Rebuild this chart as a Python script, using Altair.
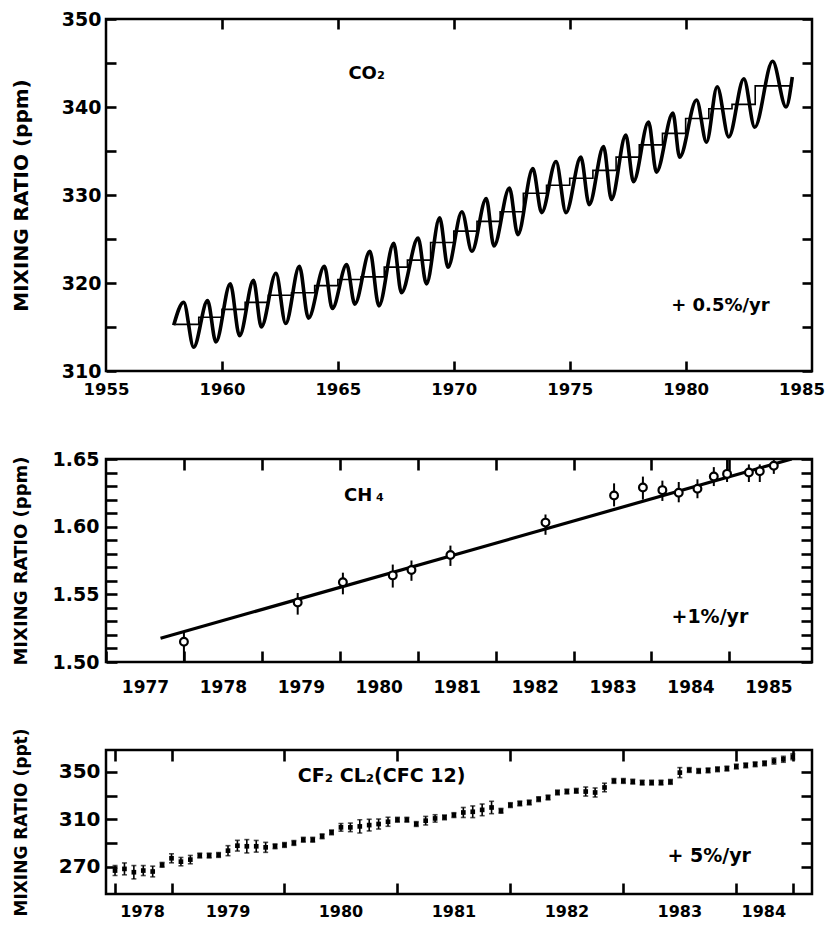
import altair as alt
import pandas as pd

FONT = "DejaVu Sans"

co2_start_year = 1957.92
co2_start_val = 315.2
co2_peak_year = [1958.35, 1959.38, 1960.36, 1961.36, 1962.33, 1963.34, 1964.42, 1965.38, 1966.38,
                 1967.41, 1968.46, 1969.39, 1970.35, 1971.40, 1972.40, 1973.41, 1974.41, 1975.48,
                 1976.46, 1977.42, 1978.40, 1979.45, 1980.47, 1981.36, 1982.51, 1983.75]
co2_peak_val = [317.8, 318.0, 319.9, 320.3, 321.1, 321.9, 321.9, 322.1, 323.6,
                324.5, 325.1, 327.4, 328.1, 329.6, 330.8, 333.0, 333.8, 334.3,
                335.5, 336.8, 338.3, 339.3, 340.8, 342.3, 343.2, 345.2]
co2_trough_year = [1958.78, 1959.74, 1960.76, 1961.70, 1962.75, 1963.73, 1964.76, 1965.73, 1966.77,
                   1967.74, 1968.82, 1969.75, 1970.78, 1971.73, 1972.76, 1973.79, 1974.84, 1975.84,
                   1976.80, 1977.75, 1978.74, 1979.74, 1980.90, 1981.86, 1982.98, 1984.33]
co2_trough_val = [312.7, 313.3, 314.0, 315.0, 315.4, 316.0, 317.1, 317.6, 317.4,
                  318.9, 319.9, 321.8, 323.6, 324.2, 325.5, 328.0, 328.0, 328.9,
                  329.5, 331.5, 332.6, 334.3, 336.0, 336.6, 337.7, 340.0]
co2_end_year = 1984.6
co2_end_val = 343.4

co2_mean_year = [1958, 1959, 1960, 1961, 1962, 1963, 1964, 1965, 1966, 1967, 1968, 1969, 1970,
                 1971, 1972, 1973, 1974, 1975, 1976, 1977, 1978, 1979, 1980, 1981, 1982, 1983, 1984]
co2_mean_val = [315.3, 316.1, 317.0, 317.8, 318.6, 318.9, 319.7, 320.4, 320.7, 321.8, 322.6, 324.6, 325.9,
                327.0, 328.1, 330.2, 331.1, 331.9, 332.8, 334.3, 335.7, 337.0, 338.7, 339.8, 340.3, 342.4, 342.4]

ch4_year = [1978.00, 1979.46, 1980.04, 1980.68, 1980.92, 1981.42, 1982.64, 1983.52, 1983.89,
            1984.14, 1984.35, 1984.59, 1984.80, 1984.97, 1985.25, 1985.39, 1985.57]
ch4_val = [1.515, 1.544, 1.559, 1.564, 1.568, 1.579, 1.603, 1.623, 1.629,
           1.627, 1.625, 1.628, 1.637, 1.639, 1.640, 1.641, 1.645]
ch4_lo = [1.500, 1.535, 1.550, 1.555, 1.560, 1.571, 1.594, 1.615, 1.620,
          1.619, 1.618, 1.621, 1.630, 1.633, 1.633, 1.633, 1.639]
ch4_hi = [1.522, 1.551, 1.566, 1.572, 1.575, 1.586, 1.609, 1.632, 1.637,
          1.634, 1.633, 1.635, 1.644, 1.650, 1.646, 1.646, 1.650]
ch4_fit_year = [1977.70, 1985.80]
ch4_fit_val = [1.5175, 1.6500]

cfc_first_year = 1978.5
cfc_val = [267.0, 268.4, 265.6, 267.0, 266.2, 271.8, 277.3, 274.5, 276.2, 279.6,
           279.6, 280.1, 283.7, 287.9, 287.4, 287.4, 286.5, 287.4, 288.5, 290.2,
           292.9, 292.9, 295.8, 299.1, 303.3, 303.3, 304.1, 305.2, 306.1, 308.0,
           309.7, 309.7, 306.1, 308.9, 310.8, 311.7, 313.6, 315.8, 316.4, 318.0,
           320.0, 317.2, 322.0, 323.4, 324.2, 327.0, 328.4, 332.6, 333.4, 334.0,
           333.4, 332.6, 336.8, 342.3, 342.3, 341.7, 340.9, 340.9, 340.9, 341.5,
           349.3, 351.5, 350.7, 351.2, 352.1, 352.7, 354.4, 355.4, 356.3, 357.1,
           359.0, 360.5, 362.7]
cfc_err = [4.2, 5.0, 5.6, 4.2, 4.5, 2.0, 3.8, 3.5, 3.5, 2.0,
           2.0, 2.0, 4.2, 4.5, 5.6, 4.9, 4.2, 2.0, 2.0, 2.0,
           2.0, 2.0, 2.0, 2.0, 3.2, 3.6, 5.6, 4.9, 4.2, 3.8,
           2.0, 2.0, 2.0, 3.6, 3.1, 2.0, 2.0, 4.2, 4.9, 4.9,
           5.2, 2.0, 2.0, 2.0, 2.0, 2.0, 2.0, 2.0, 2.0, 2.0,
           3.8, 3.8, 3.6, 2.0, 2.0, 2.0, 2.0, 2.0, 2.0, 2.0,
           4.2, 2.0, 2.0, 2.0, 2.0, 2.0, 2.0, 2.0, 2.0, 2.0,
           2.5, 2.5, 2.5]

co2_df = pd.DataFrame({
    "year": [co2_start_year] + [v for p in zip(co2_peak_year, co2_trough_year) for v in p] + [co2_end_year],
    "ppm": [co2_start_val] + [v for p in zip(co2_peak_val, co2_trough_val) for v in p] + [co2_end_val],
})
mean_df = pd.DataFrame({"year": co2_mean_year + [co2_end_year],
                        "ppm": co2_mean_val + [co2_mean_val[-1]]})
ch4_df = pd.DataFrame({"year": ch4_year, "ppm": ch4_val, "lo": ch4_lo, "hi": ch4_hi})
fit_df = pd.DataFrame({"year": ch4_fit_year, "ppm": ch4_fit_val})
cfc_df = pd.DataFrame({"year": [cfc_first_year + i / 12 for i in range(len(cfc_val))], "ppt": cfc_val})
cfc_df["lo"] = cfc_df["ppt"] - pd.Series(cfc_err)
cfc_df["hi"] = cfc_df["ppt"] + pd.Series(cfc_err)
caps_df = pd.concat([cfc_df[["year", "lo"]].rename(columns={"lo": "v"}),
                     cfc_df[["year", "hi"]].rename(columns={"hi": "v"})])

W = 706


def frame_axis(orient, values, tick, **kw):
    base = dict(orient=orient, values=values, tickSize=tick, offset=-tick, domain=False, grid=False,
                ticks=True, tickColor="black", tickWidth=2.6, labelOverlap=False, labelFlush=False,
                labelFont=FONT, labelFontWeight="bold", labelColor="black", title=None,
                minExtent=0, maxExtent=300)
    if "labels" not in kw:
        kw["labels"] = False
    base.update(kw)
    return alt.Axis(**base)


def note(text, x, y, xs, ys, size):
    return alt.Chart(pd.DataFrame({"t": [text]})).mark_text(
        font=FONT, fontWeight="bold", fontSize=size, color="black", align="center", baseline="middle"
    ).encode(x=alt.X(datum=x, scale=xs, axis=None), y=alt.Y(datum=y, scale=ys, axis=None), text="t:N")


def ytitle_axis(values, tick, title, tsize, **kw):
    return frame_axis("left", values, tick, labels=True, title=title, titleFont=FONT, titleFontWeight="bold",
                      titleFontSize=tsize, titleColor="black", titleAngle=270, titleBaseline="middle",
                      titleX=-85 - tick, **kw)


T1 = 10
xs1 = alt.Scale(domain=[1955, 1985.45], nice=False, zero=False)
ys1 = alt.Scale(domain=[310, 350], nice=False, zero=False)
co2_yvals = [310, 315, 320, 325, 330, 335, 340, 345, 350]

seasonal = alt.Chart(co2_df).mark_line(color="black", strokeWidth=3.6, interpolate="monotone", clip=True).encode(
    x=alt.X("year:Q", scale=xs1, axis=frame_axis(
        "bottom", [1955, 1960, 1965, 1970, 1975, 1980, 1985], T1, labels=True, labelFontSize=16.5, labelPadding=10,
        labelExpr="format(datum.value, 'd')",
        tickOpacity={"condition": {"test": "datum.value == 1955 || datum.value == 1985", "value": 0}, "value": 1})),
    y=alt.Y("ppm:Q", scale=ys1, axis=ytitle_axis(
        co2_yvals, T1, "MIXING RATIO (ppm)", 20, labelFontSize=19, labelPadding=5,
        labelExpr="datum.value % 10 == 0 ? format(datum.value, 'd') : ''")),
)
mean_line = alt.Chart(mean_df).mark_line(color="black", strokeWidth=1.6, interpolate="step-after").encode(
    x=alt.X("year:Q", scale=xs1, axis=frame_axis("top", [1960, 1965, 1970, 1975, 1980], T1)),
    y=alt.Y("ppm:Q", scale=ys1, axis=frame_axis("right", co2_yvals, T1)),
)
p1 = alt.layer(
    seasonal, mean_line,
    note("CO₂", 1966.24, 343.8, xs1, ys1, 18),
    note("+ 0.5%/yr", 1981.5, 317.4, xs1, ys1, 18),
).resolve_axis(x="independent", y="independent").properties(width=W, height=352)

T2 = 11
xs2 = alt.Scale(domain=[1977, 1986.06], nice=False, zero=False)
ys2 = alt.Scale(domain=[1.50, 1.65], nice=False, zero=False)
ch4_yvals = [round(1.50 + 0.01 * i, 2) for i in range(16)]
ch4_xvals = [1977, 1978, 1979, 1980, 1981, 1982, 1983, 1984, 1985]

fit = alt.Chart(fit_df).mark_line(color="black", strokeWidth=3.2, clip=True).encode(
    x=alt.X("year:Q", scale=xs2, axis=frame_axis(
        "bottom", ch4_xvals, T2, labels=True, labelFontSize=17, labelPadding=17, labelOffset=39,
        labelExpr="format(datum.value, 'd')")),
    y=alt.Y("ppm:Q", scale=ys2, axis=ytitle_axis(
        ch4_yvals, T2, "MIXING RATIO (ppm)", 18, labelFontSize=19, labelPadding=7,
        labelExpr="round(datum.value * 100) % 5 == 0 ? format(datum.value, '.2f') : ''")),
)
ch4_err = alt.Chart(ch4_df).mark_rule(color="black", strokeWidth=2, clip=True).encode(
    x=alt.X("year:Q", scale=xs2, axis=frame_axis("top", ch4_xvals[1:], T2)),
    y=alt.Y("lo:Q", scale=ys2, axis=frame_axis("right", ch4_yvals, T2)),
    y2="hi:Q",
)
ch4_pts = alt.Chart(ch4_df).mark_point(shape="circle", size=60, filled=True, fill="white", stroke="black",
                                       strokeWidth=2.2, opacity=1, clip=True).encode(
    x=alt.X("year:Q", scale=xs2, axis=None),
    y=alt.Y("ppm:Q", scale=ys2, axis=None),
)
p2 = alt.layer(
    fit, ch4_err, ch4_pts,
    note("CH\u2009₄", 1980.31, 1.6227, xs2, ys2, 18),
    note("+1%/yr", 1984.75, 1.5336, xs2, ys2, 19),
).resolve_axis(x="independent", y="independent").properties(width=W, height=203)

T3 = 11
xs3 = alt.Scale(domain=[1978.42, 1984.67], nice=False, zero=False)
ys3 = alt.Scale(domain=[247.3, 368.3], nice=False, zero=False)
cfc_xvals = [1978.5, 1979, 1980, 1981, 1982, 1983, 1984, 1984.5]
cfc_yvals = [270, 290, 310, 330, 350]

cfc_bars = alt.Chart(cfc_df).mark_rule(color="black", strokeWidth=1.6).encode(
    x=alt.X("year:Q", scale=xs3, axis=frame_axis(
        "bottom", cfc_xvals, T3, labels=True, labelFontSize=16, labelPadding=9,
        labelExpr="datum.value == 1984.5 ? '' : format(floor(datum.value), 'd')",
        labelOffset={"condition": {"test": "datum.value == 1978.5 || datum.value == 1984", "value": 27},
                     "value": 56})),
    y=alt.Y("lo:Q", scale=ys3, axis=ytitle_axis(
        cfc_yvals, T3, "MIXING RATIO (ppt)", 17, labelFontSize=20, labelPadding=6,
        labelExpr="datum.value % 40 == 30 ? format(datum.value, 'd') : ''")),
    y2="hi:Q",
)
cfc_caps = alt.Chart(caps_df).mark_tick(color="black", orient="horizontal", size=5, thickness=1.6).encode(
    x=alt.X("year:Q", scale=xs3, axis=frame_axis("top", cfc_xvals, T3)),
    y=alt.Y("v:Q", scale=ys3, axis=frame_axis("right", cfc_yvals, T3)),
)
cfc_pts = alt.Chart(cfc_df).mark_square(color="black", size=22, opacity=1).encode(
    x=alt.X("year:Q", scale=xs3, axis=None),
    y=alt.Y("ppt:Q", scale=ys3, axis=None),
)
p3 = alt.layer(
    cfc_bars, cfc_caps, cfc_pts,
    note("CF₂ CL₂(CFC 12)", 1980.86, 346.2, xs3, ys3, 19),
    note("+ 5%/yr", 1983.76, 279.4, xs3, ys3, 19),
).resolve_axis(x="independent", y="independent").properties(width=W, height=144)

chart = alt.vconcat(p1, p2, p3, spacing=88, bounds="flush").configure(
    background="white",
    padding={"left": 1, "top": 0, "right": -24, "bottom": 0},
    view=alt.ViewConfig(stroke="black", strokeWidth=2.5),
)

chart.save("out.html", embed_options={"renderer": "svg", "actions": False})
